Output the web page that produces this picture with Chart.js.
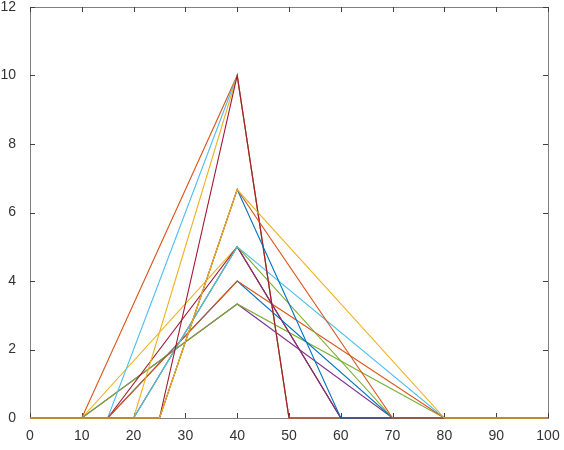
<!DOCTYPE html>
<html>
<head>
<meta charset="utf-8">
<script src="https://cdn.jsdelivr.net/npm/chart.js@4.4.1/dist/chart.umd.min.js"></script>
<style>
  html, body { margin: 0; padding: 0; background: #fff; }
  #wrap { width: 564px; height: 450px; }
</style>
</head>
<body>
<div id="wrap"><canvas id="myChart" width="564" height="450"></canvas></div>
<script>
// triangles: start -> peak at 40 -> end, zero elsewhere on [0, 100]
const xDomain = [0, 100];
const xPeak = 40;
const xStart = [10, 10, 10, 10, 15, 15, 15, 15, 20, 20, 20, 20, 25, 25, 25, 25];
const xEnd   = [50, 60, 70, 80, 50, 60, 70, 80, 50, 60, 70, 80, 50, 60, 70, 80];
const peaks  = [10, 5, 3.33, 3.33, 10, 5, 4, 4, 10, 5, 5, 5, 10, 6.67, 6.67, 6.67];

const xTicks = [0, 10, 20, 30, 40, 50, 60, 70, 80, 90, 100];
const yTicks = [0, 2, 4, 6, 8, 10, 12];

// matlab default line order, first entry skipped
const lineColors = [
  '#d95319', '#edb120', '#7e2f8e', '#77ac30', '#4dbeee', '#a2142f', '#0072bd',
  '#d95319', '#edb120', '#7e2f8e', '#77ac30', '#4dbeee', '#a2142f', '#0072bd',
  '#d95319', '#edb120'
];

const build_dataset = (i) => {
  return {
    data: [
      { x: xDomain[0], y: 0 },
      { x: xStart[i], y: 0 },
      { x: xPeak, y: peaks[i] },
      { x: xEnd[i], y: 0 },
      { x: xDomain[1], y: 0 }
    ],
    borderColor: lineColors[i],
    borderWidth: 1.1,
    pointRadius: 0,
    tension: 0,
    fill: false,
    clip: false,
    order: peaks.length - i
  };
};

const datasets = peaks.map((p, i) => build_dataset(i));

// box around the axes with inward tick marks
const boxPlugin = {
  id: 'box',
  beforeDatasetsDraw(chart) {
    const { ctx, chartArea: a, scales } = chart;
    ctx.save();
    ctx.lineWidth = 1;
    ctx.strokeStyle = '#808080';
    ctx.strokeRect(a.left + 0.5, a.top + 0.5, a.right - a.left, a.bottom - a.top);
    ctx.strokeStyle = '#404040';
    ctx.beginPath();
    xTicks.forEach((v) => {
      const px = Math.round(scales.x.getPixelForValue(v)) + 0.5;
      ctx.moveTo(px, a.bottom);
      ctx.lineTo(px, a.bottom - 5);
      ctx.moveTo(px, a.top);
      ctx.lineTo(px, a.top + 5);
    });
    yTicks.forEach((v) => {
      const py = Math.round(scales.y.getPixelForValue(v)) + 0.5;
      ctx.moveTo(a.left, py);
      ctx.lineTo(a.left + 5, py);
      ctx.moveTo(a.right, py);
      ctx.lineTo(a.right - 5, py);
    });
    ctx.stroke();
    ctx.restore();
  }
};

const tickFont = { family: "'Liberation Sans', Arial, sans-serif", size: 14 };

const config = {
  type: 'line',
  data: { datasets },
  options: {
    responsive: false,
    animation: false,
    layout: { padding: { top: 7, right: 16, left: 0, bottom: 0 } },
    plugins: { legend: { display: false }, tooltip: { enabled: false } },
    scales: {
      x: {
        type: 'linear',
        min: xDomain[0],
        max: xDomain[1],
        grid: { display: false },
        border: { display: false },
        afterBuildTicks: (scale) => { scale.ticks = xTicks.map((v) => ({ value: v })); },
        afterFit: (scale) => { scale.height = 32; },
        ticks: { autoSkip: false, maxRotation: 0, padding: 2, color: '#333', font: tickFont }
      },
      y: {
        min: 0,
        max: 12,
        grid: { display: false },
        border: { display: false },
        afterBuildTicks: (scale) => { scale.ticks = yTicks.map((v) => ({ value: v })); },
        afterFit: (scale) => {
          scale.width = 30;
          scale.paddingTop = 0;
          scale.paddingBottom = 0;
        },
        ticks: { autoSkip: false, padding: 6, color: '#333', font: tickFont }
      }
    }
  },
  plugins: [boxPlugin]
};

new Chart(document.getElementById('myChart'), config);
</script>
</body>
</html>
